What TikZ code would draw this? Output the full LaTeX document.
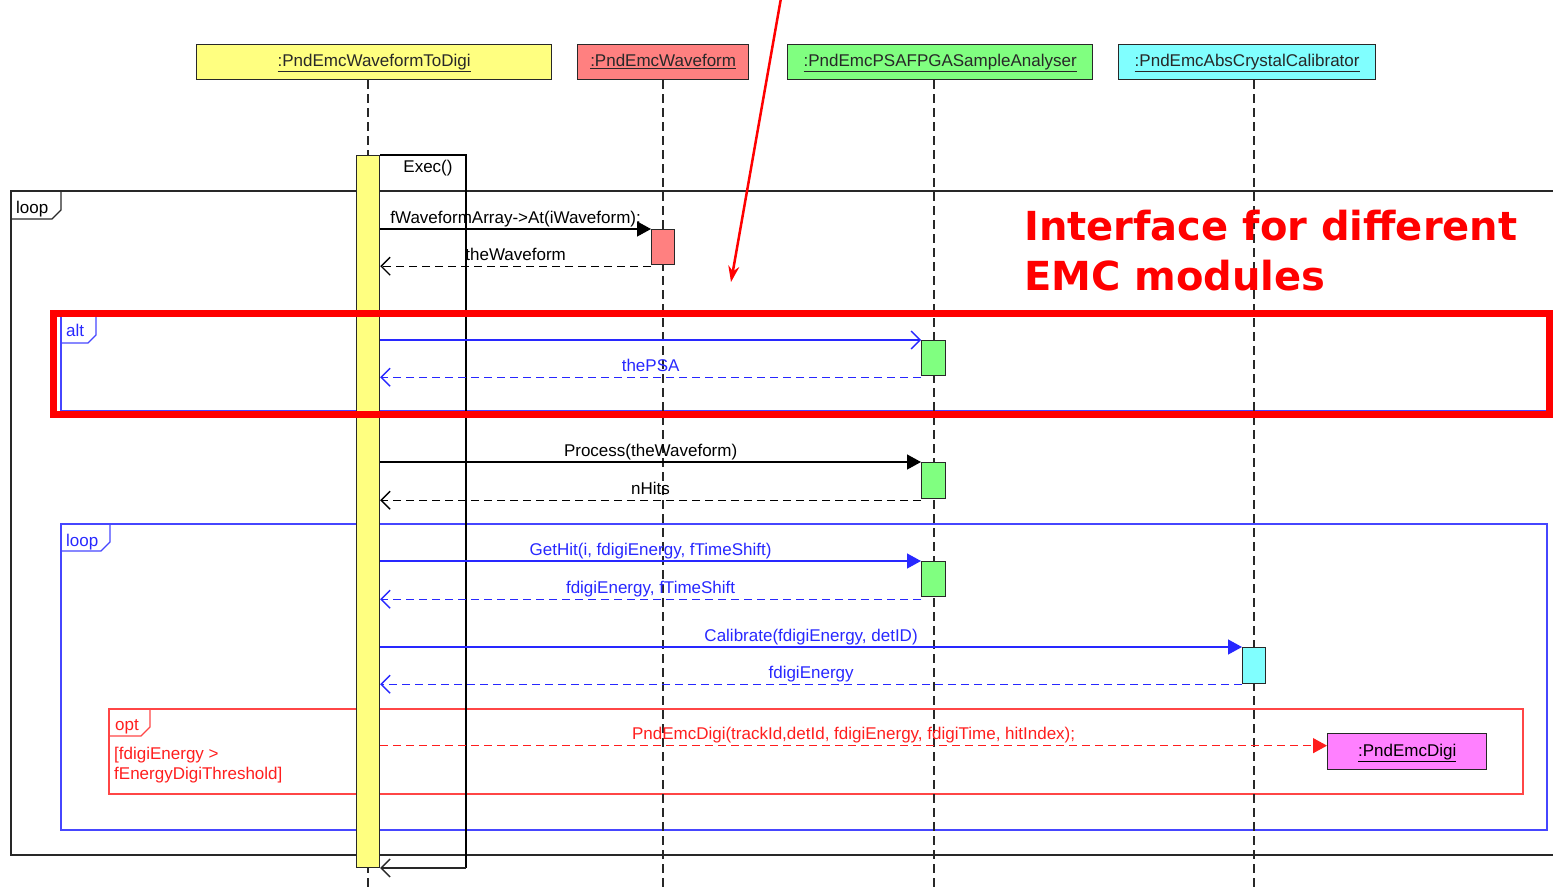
\documentclass[tikz,border=0pt]{standalone}
\usepackage{fontspec}
\setmainfont{Liberation Sans}
\newfontfamily\notefont{DejaVu Sans}
\usetikzlibrary{arrows.meta}
\definecolor{hdyellow}{HTML}{FFFF80}
\definecolor{hdred}{HTML}{FF8080}
\definecolor{hdgreen}{HTML}{80FF80}
\definecolor{hdcyan}{HTML}{80FFFF}
\definecolor{hdpink}{HTML}{FF80FF}
\definecolor{msgblue}{RGB}{40,40,255}
\definecolor{frblue}{RGB}{70,70,255}
\definecolor{msgred}{RGB}{255,30,30}
\definecolor{frred}{RGB}{255,70,70}
\definecolor{edge}{RGB}{40,40,40}
\tikzset{
  lifeline/.style={draw=edge, line width=1.2pt, dash pattern=on 9pt off 5pt},
  head/.style={draw=edge, line width=1.3pt, inner sep=0pt, minimum height=35pt, anchor=north west,
    text=edge, text height=13pt, text depth=4pt},
  actbox/.style={draw=edge, line width=1.2pt, inner sep=0pt, minimum width=23pt, anchor=north west},
  callmsg/.style={line width=1.3pt, -{Triangle[length=14pt,width=15pt]}},
  asyncmsg/.style={line width=1.3pt, -{Straight Barb[length=9pt,width=18pt]}},
  retmsg/.style={line width=1.4pt, dash pattern=on 8pt off 5pt, -{Straight Barb[length=9pt,width=18pt]}},
  msglabel/.style={midway, anchor=base, yshift=6pt, inner sep=0pt},
  tagtext/.style={inner sep=0pt, anchor=base west},
}
\begin{document}
\begin{tikzpicture}[x=1pt, y=-1pt, font=\fontsize{17}{20}\selectfont]
\useasboundingbox (0,0) rectangle (1553,889);
\clip (0,0) rectangle (1553,889);

% ---------- combined fragments ----------
% outer loop
\draw[edge, line width=1.2pt] (1560,191) -- (11,191) -- (11,855) -- (1560,855);
\draw[edge, line width=1.2pt] (11,219) -- (52,219) -- (61,210) -- (61,191);
\node[tagtext, text=black] (tagLoopA) at (16,213) {loop};

% alt
\draw[frblue, line width=1.2pt] (1560,316) -- (61,316) -- (61,411) -- (1560,411);
\draw[frblue, line width=1.2pt] (61,343) -- (88,343) -- (96,335) -- (96,316);
\node[tagtext, text=msgblue] (tagAlt) at (66,336) {alt};

% inner loop
\draw[frblue, line width=1.2pt] (61,524) rectangle (1547,830);
\draw[frblue, line width=1.2pt] (61,551) -- (101,551) -- (110,542) -- (110,524);
\node[tagtext, text=msgblue] (tagLoopB) at (66,546) {loop};

% opt
\draw[frred, line width=1.2pt] (109,709) rectangle (1523,794);
\draw[frred, line width=1.2pt] (109,736) -- (141,736) -- (150,727) -- (150,709);
\node[tagtext, text=msgred] (tagOpt) at (115,730) {opt};
\node[inner sep=0pt, anchor=base west, align=left, text=msgred] (guard) at (114,779)
  {[fdigiEnergy >\\fEnergyDigiThreshold]};

% ---------- lifeline heads ----------
\node[head, fill=hdyellow, minimum width=355pt] (hTD) at (196,44) {\underline{:PndEmcWaveformToDigi}};
\node[head, fill=hdred, minimum width=171pt] (hWF) at (577,44) {\underline{:PndEmcWaveform}};
\node[head, fill=hdgreen, minimum width=305pt] (hPSA) at (787,44) {\underline{:PndEmcPSAFPGASampleAnalyser}};
\node[head, fill=hdcyan, minimum width=257pt] (hCal) at (1118,44) {\underline{:PndEmcAbsCrystalCalibrator}};

% lifeline ends
\coordinate (endTD) at (368,889);
\coordinate (endWF) at (663,889);
\coordinate (endPSA) at (934,889);
\coordinate (endCal) at (1254,889);
\draw[lifeline] (hTD.south -| endTD) -- (endTD);
\draw[lifeline] (hWF.south -| endWF) -- (endWF);
\draw[lifeline] (hPSA.south -| endPSA) -- (endPSA);
\draw[lifeline] (hCal.south -| endCal) -- (endCal);

% ---------- activations ----------
\node[actbox, fill=hdyellow, minimum height=712pt] (aTD) at (356,155) {};
\node[actbox, fill=hdred, minimum height=35pt] (aWF) at (651,229) {};
\node[actbox, fill=hdgreen, minimum height=35pt, minimum width=24pt] (aPSA1) at (921,340) {};
\node[actbox, fill=hdgreen, minimum height=36pt, minimum width=24pt] (aPSA2) at (921,462) {};
\node[actbox, fill=hdgreen, minimum height=35pt, minimum width=24pt] (aPSA3) at (921,561) {};
\node[actbox, fill=hdcyan, minimum height=36pt] (aCal) at (1242,647) {};
\node[head, fill=hdpink, minimum width=159pt, minimum height=36pt, text=black] (digi) at (1327,733) {\underline{:PndEmcDigi}};

% ---------- Exec() self call ----------
\coordinate (execTop) at (466,155);
\coordinate (execBot) at (466,868);
\draw[black, line width=1.2pt] (aTD.north east) -- (execTop) -- (execBot);
\draw[edge, asyncmsg] (execBot) -- (execBot -| aTD.east);
\node[inner sep=0pt, anchor=base] (execLbl) at (428,172) {Exec()};

% ---------- messages ----------
\draw[black, callmsg] (aTD.east |- aWF.north) -- (aWF.north west)
  node[msglabel, text=black] {fWaveformArray->At(iWaveform);};
\draw[black, retmsg] ([yshift=-1pt]aWF.south west) -- ([yshift=-1pt]aTD.east |- aWF.south)
  node[msglabel, text=black] {theWaveform};

\draw[msgblue, asyncmsg] (aTD.east |- aPSA1.north) -- (aPSA1.north west);
\draw[msgblue, retmsg] ([yshift=-1pt]aPSA1.south west) -- ([yshift=-1pt]aTD.east |- aPSA1.south)
  node[msglabel, text=msgblue] {thePSA};

\draw[black, callmsg] (aTD.east |- aPSA2.north) -- (aPSA2.north west)
  node[msglabel, text=black] {Process(theWaveform)};
\draw[black, retmsg] ([yshift=-1pt]aPSA2.south west) -- ([yshift=-1pt]aTD.east |- aPSA2.south)
  node[msglabel, text=black] {nHits};

\draw[msgblue, callmsg] (aTD.east |- aPSA3.north) -- (aPSA3.north west)
  node[msglabel, text=msgblue] {GetHit(i, fdigiEnergy, fTimeShift)};
\draw[msgblue, retmsg] ([yshift=-2pt]aPSA3.south west) -- ([yshift=-2pt]aTD.east |- aPSA3.south)
  node[msglabel, text=msgblue] {fdigiEnergy, fTimeShift};

\draw[msgblue, callmsg] (aTD.east |- aCal.north) -- (aCal.north west)
  node[msglabel, text=msgblue] {Calibrate(fdigiEnergy, detID)};
\draw[msgblue, retmsg] (aCal.south west) -- (aTD.east |- aCal.south)
  node[msglabel, text=msgblue] {fdigiEnergy};

\draw[msgred, line width=1.3pt, dash pattern=on 8pt off 5pt, -{Triangle[length=14pt,width=15pt]}]
  ([yshift=6pt]aTD.east |- digi.west) -- ([yshift=6pt]digi.west)
  node[msglabel, text=msgred] {PndEmcDigi(trackId,detId, fdigiEnergy, fdigiTime, hitIndex);};

% ---------- highlight and note ----------
\draw[red, line width=7pt] (53.5,313) rectangle (1549,414.5);
\node[anchor=base west, inner sep=0pt, align=left, text=red,
      font=\notefont\bfseries\fontsize{40}{50}\selectfont] (note) at (1024,290)
  {Interface for different\\EMC modules};
\coordinate (noteTail) at (781,-2);
\coordinate (noteHead) at (731,282);
\draw[red, line width=2.5pt, -{Stealth[length=16pt,width=11pt]}] (noteTail) -- (noteHead);
\end{tikzpicture}
\end{document}
